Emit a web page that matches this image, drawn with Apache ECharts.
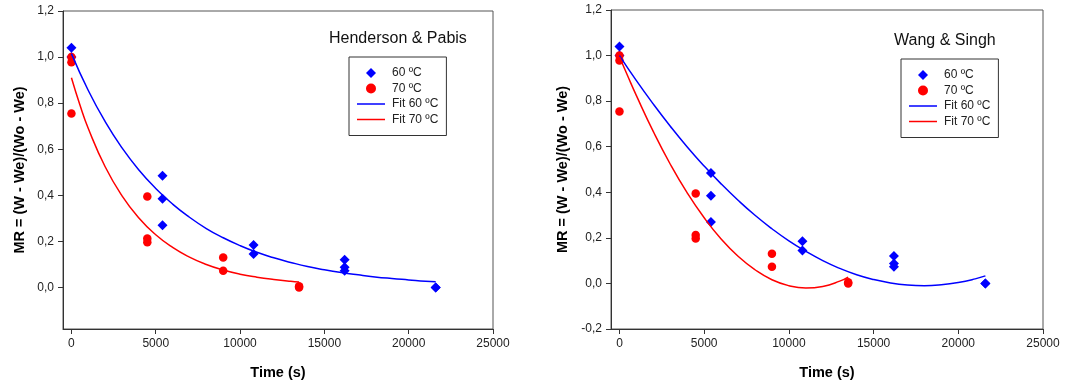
<!DOCTYPE html>
<html>
<head>
<meta charset="utf-8">
<script src="https://cdn.jsdelivr.net/npm/echarts@6/dist/echarts.min.js"></script>
<style>
html,body{margin:0;padding:0;background:#fff;}
#c{width:1081px;height:385px;}
</style>
</head>
<body>
<div id="c"></div>
<script>
// ---- data ----
const t60 = [0, 0, 5400, 5400, 5400, 10800, 10800, 16200, 16200, 16200, 21600, 21600];
const mr60 = [1.04, 1.0, 0.485, 0.385, 0.27, 0.185, 0.145, 0.12, 0.088, 0.073, 0.0, 0.0];
const t70 = [0, 0, 0, 4500, 4500, 4500, 9000, 9000, 13500, 13500];
const mr70 = [1.0, 0.978, 0.755, 0.395, 0.213, 0.197, 0.13, 0.073, 0.005, 0.0];

const fitT60 = [0, 1000, 2000, 3000, 4000, 5000, 6000, 7000, 8000, 9000, 10000, 11000, 12000, 13000, 14000, 15000, 16000, 17000, 18000, 19000, 20000, 21000, 21600];
const fitT70 = [0, 500, 1000, 2000, 3000, 4000, 5000, 6000, 7000, 8000, 9000, 10000, 11000, 12000, 13000, 13500];

// Henderson & Pabis fitted curves
const hpFit60 = [1.015, 0.855, 0.72, 0.606, 0.51, 0.43, 0.362, 0.305, 0.256, 0.216, 0.182, 0.153, 0.129, 0.109, 0.091, 0.077, 0.065, 0.055, 0.046, 0.039, 0.033, 0.027, 0.025];
const hpFit70 = [0.91, 0.793, 0.69, 0.524, 0.398, 0.302, 0.229, 0.174, 0.132, 0.1, 0.076, 0.058, 0.045, 0.035, 0.027, 0.024];

// Wang & Singh fitted curves
const wsFit60 = [1.0, 0.89, 0.787, 0.69, 0.599, 0.515, 0.437, 0.365, 0.299, 0.24, 0.187, 0.141, 0.1, 0.066, 0.038, 0.017, 0.002, -0.007, -0.01, -0.006, 0.004, 0.02, 0.033];
const wsFit70 = [0.995, 0.908, 0.824, 0.666, 0.523, 0.397, 0.288, 0.195, 0.119, 0.06, 0.016, -0.01, -0.02, -0.013, 0.01, 0.028];

const xTicks = [0, 5000, 10000, 15000, 20000, 25000];
const yTicksLeft = [0, 0.2, 0.4, 0.6, 0.8, 1.0, 1.2];
const yTicksRight = [-0.2, 0, 0.2, 0.4, 0.6, 0.8, 1.0, 1.2];

const seriesNames = ['60 ºC', '70 ºC', 'Fit 60 ºC', 'Fit 70 ºC'];
const chartTitles = ['Henderson & Pabis', 'Wang & Singh'];
const xName = 'Time (s)';
const yName = 'MR = (W - We)/(Wo - We)';

// ---- build ----
const FONT = '"Liberation Sans", Arial, sans-serif';
const BLUE = '#0000ff', RED = '#ff0000';
const zip = (a, b) => a.map((v, i) => [v, b[i]]);

function xAxis(gi) {
  return {
    gridIndex: gi, type: 'value', min: -500, max: 25000,
    name: xName, nameLocation: 'middle', nameGap: 36,
    nameTextStyle: {fontFamily: FONT, fontSize: 14.5, fontWeight: 'bold', color: '#000'},
    axisLine: {show: true, onZero: false, lineStyle: {color: '#333', width: 1}},
    axisTick: {show: true, inside: false, length: 5, customValues: xTicks, lineStyle: {color: '#333'}},
    axisLabel: {customValues: xTicks, margin: 9, fontFamily: FONT, fontSize: 12, color: '#222',
      formatter: v => String(v)},
    splitLine: {show: false}
  };
}
function yAxis(gi, min, ticks, gap) {
  return {
    gridIndex: gi, type: 'value', min: min, max: 1.2,
    name: yName, nameLocation: 'middle', nameGap: gap, nameRotate: 90,
    nameTextStyle: {fontFamily: FONT, fontSize: 14.5, fontWeight: 'bold', color: '#000'},
    axisLine: {show: true, onZero: false, lineStyle: {color: '#333', width: 1}},
    axisTick: {show: true, inside: false, length: 5, customValues: ticks, lineStyle: {color: '#333'}},
    axisLabel: {customValues: ticks, margin: 9, fontFamily: FONT, fontSize: 12, color: '#222',
      formatter: v => v.toFixed(1).replace('.', ',')},
    splitLine: {show: false}
  };
}
function series(gi, fit60, fit70) {
  return [
    {name: seriesNames[2], type: 'line', xAxisIndex: gi, yAxisIndex: gi, data: zip(fitT60, fit60),
     smooth: true, symbol: 'none', lineStyle: {color: BLUE, width: 1.5}, itemStyle: {color: BLUE}},
    {name: seriesNames[3], type: 'line', xAxisIndex: gi, yAxisIndex: gi, data: zip(fitT70, fit70),
     smooth: true, symbol: 'none', lineStyle: {color: RED, width: 1.5}, itemStyle: {color: RED}},
    {name: seriesNames[0], type: 'scatter', xAxisIndex: gi, yAxisIndex: gi, data: zip(t60, mr60),
     symbol: 'diamond', symbolSize: 10, itemStyle: {color: BLUE, opacity: 1}},
    {name: seriesNames[1], type: 'scatter', xAxisIndex: gi, yAxisIndex: gi, data: zip(t70, mr70),
     symbol: 'circle', symbolSize: 8.5, itemStyle: {color: RED, opacity: 1}}
  ];
}
function legend(left, top) {
  return {
    data: [
      {name: seriesNames[0], icon: 'path://M5,0 L10,5 L5,10 L0,5 Z', itemStyle: {color: BLUE, borderWidth: 0, opacity: 1}},
      {name: seriesNames[1], icon: 'circle', itemStyle: {color: RED, borderWidth: 0, opacity: 1}},
      {name: seriesNames[2], icon: 'path://M0,0 L28,0 L28,1.5 L0,1.5 Z', itemStyle: {color: BLUE, borderWidth: 0, opacity: 1}},
      {name: seriesNames[3], icon: 'path://M0,0 L28,0 L28,1.5 L0,1.5 Z', itemStyle: {color: RED, borderWidth: 0, opacity: 1}}
    ],
    orient: 'vertical', left: left, top: top,
    itemWidth: 28, itemHeight: 10, itemGap: 1.5,
    symbolKeepAspect: true,
    padding: [9, 8, 9, 8],
    borderColor: '#333', borderWidth: 1, borderRadius: 0,
    selectedMode: false,
    textStyle: {fontFamily: FONT, fontSize: 12, color: '#222', padding: [0, 0, 0, 2], lineHeight: 14}
  };
}

const option = {
  animation: false,
  backgroundColor: '#fff',
  title: [
    {text: chartTitles[0], left: 329, top: 31, padding: 0, textStyle: {fontFamily: FONT, fontSize: 16, fontWeight: 'normal', color: '#111'}},
    {text: chartTitles[1], left: 894, top: 33, padding: 0, textStyle: {fontFamily: FONT, fontSize: 16, fontWeight: 'normal', color: '#111'}}
  ],
  legend: [legend(349, 57), legend(901, 59)],
  grid: [
    {left: 63, top: 11, width: 430, height: 318, show: true, borderColor: '#555', borderWidth: 1, backgroundColor: 'transparent'},
    {left: 611, top: 10, width: 432, height: 320, show: true, borderColor: '#555', borderWidth: 1, backgroundColor: 'transparent'}
  ],
  xAxis: [xAxis(0), xAxis(1)],
  yAxis: [yAxis(0, -0.18, yTicksLeft, 36), yAxis(1, -0.2, yTicksRight, 41)],
  series: series(0, hpFit60, hpFit70).concat(series(1, wsFit60, wsFit70))
};

const chart = echarts.init(document.getElementById('c'), null, {renderer: 'canvas'});
chart.setOption(option);
</script>
</body>
</html>
